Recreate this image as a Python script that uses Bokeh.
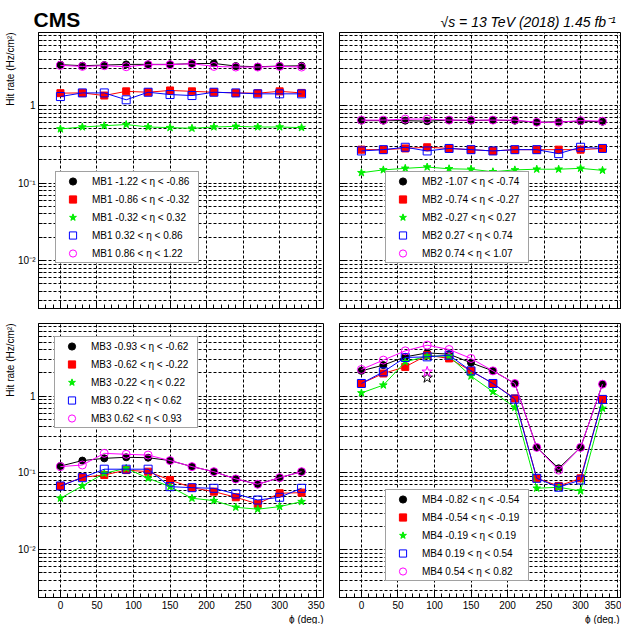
from bokeh.plotting import figure
from bokeh.models import (FixedTicker, CustomJSTickFormatter, Legend, LegendItem,
                          Title, Range1d)
from bokeh.layouts import column, row
from bokeh.embed import file_html
from bokeh.resources import INLINE

# ---------------- data ----------------
phi = [0, 30, 60, 90, 120, 150, 180, 210, 240, 270, 300, 330]

mb1_eta_edges = ["-1.22", "-0.86", "-0.32", "0.32", "0.86", "1.22"]
mb1_s1 = [3.38, 3.28, 3.34, 3.41, 3.41, 3.41, 3.48, 3.51, 3.24, 3.18, 3.24, 3.27]
mb1_s2 = [1.45, 1.46, 1.35, 1.53, 1.49, 1.57, 1.53, 1.49, 1.46, 1.45, 1.53, 1.46]
mb1_s3 = [0.50, 0.53, 0.55, 0.57, 0.53, 0.52, 0.51, 0.53, 0.54, 0.53, 0.53, 0.52]
mb1_s4 = [1.31, 1.46, 1.46, 1.19, 1.49, 1.39, 1.35, 1.49, 1.46, 1.42, 1.42, 1.42]
mb1_s5 = [3.31, 3.21, 3.28, 3.18, 3.38, 3.38, 3.48, 3.21, 3.15, 3.15, 3.21, 3.15]

mb2_eta_edges = ["-1.07", "-0.74", "-0.27", "0.27", "0.74", "1.07"]
mb2_s1 = [0.64, 0.64, 0.64, 0.63, 0.65, 0.64, 0.65, 0.64, 0.61, 0.62, 0.63, 0.62]
mb2_s2 = [0.27, 0.27, 0.28, 0.29, 0.28, 0.27, 0.26, 0.27, 0.27, 0.27, 0.27, 0.28]
mb2_s3 = [0.136, 0.148, 0.155, 0.161, 0.153, 0.151, 0.140, 0.148, 0.151, 0.151, 0.155, 0.146]
mb2_s4 = [0.26, 0.27, 0.29, 0.26, 0.28, 0.27, 0.26, 0.27, 0.27, 0.24, 0.29, 0.28]
mb2_s5 = [0.65, 0.65, 0.67, 0.67, 0.65, 0.65, 0.65, 0.65, 0.61, 0.61, 0.64, 0.63]

mb3_eta_edges = ["-0.93", "-0.62", "-0.22", "0.22", "0.62", "0.93"]
mb3_s1 = [0.123, 0.145, 0.155, 0.160, 0.158, 0.145, 0.121, 0.104, 0.0836, 0.0713, 0.0869, 0.104]
mb3_s2 = [0.0678, 0.0879, 0.0942, 0.109, 0.104, 0.0811, 0.0644, 0.0572, 0.0483, 0.0396, 0.0545, 0.0555]
mb3_s3 = [0.0469, 0.0678, 0.0991, 0.115, 0.0853, 0.0664, 0.0469, 0.0437, 0.0358, 0.0338, 0.0365, 0.0424]
mb3_s4 = [0.0678, 0.0869, 0.112, 0.112, 0.112, 0.0664, 0.0644, 0.0632, 0.0534, 0.0445, 0.0483, 0.0632]
mb3_s5 = [0.121, 0.127, 0.180, 0.175, 0.171, 0.145, 0.121, 0.104, 0.0836, 0.0713, 0.0869, 0.104]

mb4_eta_edges = ["-0.82", "-0.54", "-0.19", "0.19", "0.54", "0.82"]
mb4_s1 = [2.13, 2.53, 3.24, 3.65, 3.51, 2.71, 2.13, 1.46, 0.215, 0.115, 0.215, 1.43]
mb4_s2 = [1.46, 1.97, 2.40, 3.41, 3.09, 2.13, 1.46, 0.933, 0.0853, 0.0678, 0.0853, 0.906]
mb4_s3 = [1.10, 1.39, 2.79, 3.31, 3.31, 1.82, 1.14, 0.713, 0.0633, 0.0652, 0.0584, 0.692]
mb4_s4 = [1.46, 2.07, 3.18, 3.24, 3.41, 2.13, 1.46, 0.914, 0.0853, 0.0652, 0.0811, 0.906]
mb4_s5 = [2.22, 2.94, 3.88, 4.60, 4.04, 3.09, 2.13, 1.46, 0.215, 0.109, 0.215, 1.43]
# extra open-star points in MB4 at phi = 90
mb4_star_phi = [90]
mb4_star_black = [1.73]
mb4_star_magenta = [2.07]

x_major = [0, 50, 100, 150, 200, 250, 300, 350]
x_minor = [v for v in range(-30, 361, 10) if v % 50 != 0]
y_major = [0.01, 0.1, 1]
y_minor = [m * d for d in (0.001, 0.01, 0.1, 1) for m in range(2, 10)]

FONT = "Liberation Sans"
DASH = "3 2"

styles = [
    dict(marker="circle", size=7, fill_color="black", line_color="black", color="black"),
    dict(marker="square", size=7, fill_color="#ff0000", line_color="#ff0000", color="#ff0000"),
    dict(marker="star", size=8, fill_color="#00ee00", line_color="#00ee00", color="#00ee00"),
    dict(marker="square", size=8, fill_color=None, line_color="#0000ff", color="#0000ff"),
    dict(marker="circle", size=8, fill_color=None, line_color="#ff00ff", color="#ff00ff"),
]

ytick_fmt = CustomJSTickFormatter(code="""
if (Math.abs(tick - 1) < 1e-9) return "1";
const e = Math.round(Math.log10(tick));
const sup = {"-": "\u207b", "0": "\u2070", "1": "\u00b9", "2": "\u00b2", "3": "\u00b3"};
return "10" + String(e).split("").map(c => sup[c]).join("");
""")
blank_fmt = CustomJSTickFormatter(code="return '';")


def make_panel(name, series, edges, width, height, borders, x_end,
               show_xlabels, show_ylabels, legend_loc):
    bl, br, bt, bb = borders
    p = figure(width=width, height=height, x_range=Range1d(-30, x_end),
               y_range=Range1d(0.0024, 8.8), y_axis_type="log",
               output_backend="svg", toolbar_location=None, title=None,
               min_border_left=bl, min_border_right=br,
               min_border_top=bt, min_border_bottom=bb)
    p.outline_line_color = "black"
    p.outline_line_width = 1
    p.background_fill_color = "white"
    p.border_fill_color = "white"

    xt = FixedTicker(ticks=x_major, minor_ticks=x_minor)
    yt = FixedTicker(ticks=y_major, minor_ticks=y_minor)
    p.xaxis.ticker = xt
    p.xgrid.ticker = xt
    p.yaxis.ticker = yt
    p.ygrid.ticker = yt
    p.yaxis.formatter = ytick_fmt

    for ax in (p.xaxis, p.yaxis):
        ax.major_tick_in = 7
        ax.major_tick_out = 0
        ax.minor_tick_in = 4
        ax.minor_tick_out = 0
        ax.axis_line_color = "black"
        ax.major_tick_line_color = "black"
        ax.minor_tick_line_color = "black"
        ax.major_label_text_font = FONT
        ax.major_label_text_font_size = "10px"
        ax.major_label_text_color = "black"
    p.xaxis.major_label_standoff = 3
    p.yaxis.major_label_standoff = 3
    if not show_xlabels:
        p.xaxis.formatter = blank_fmt
        p.xaxis.major_label_standoff = 0
    if not show_ylabels:
        p.yaxis.formatter = blank_fmt
        p.yaxis.major_label_standoff = 0

    p.xgrid.grid_line_color = "black"
    p.xgrid.grid_line_dash = DASH
    p.xgrid.grid_line_width = 1
    p.ygrid.grid_line_color = "black"
    p.ygrid.grid_line_dash = DASH
    p.ygrid.grid_line_width = 1
    p.ygrid.minor_grid_line_color = "black"
    p.ygrid.minor_grid_line_dash = DASH
    p.ygrid.minor_grid_line_width = 1

    items = []
    for i, (vals, st) in enumerate(zip(series, styles)):
        p.line(phi, vals, line_color=st["color"], line_width=1)
        r = p.scatter(phi, vals, marker=st["marker"], size=st["size"],
                      fill_color=st["fill_color"], line_color=st["line_color"],
                      line_width=1)
        label = f"{name} {edges[i]} < \u03b7 < {edges[i + 1]}"
        items.append(LegendItem(label=label, renderers=[r]))

    leg = Legend(items=items, location=legend_loc, glyph_width=33, glyph_height=18,
                 label_height=13, label_width=106, label_standoff=3, spacing=-3,
                 padding=0, margin=0, border_line_color="#444444",
                 border_line_width=1, background_fill_color="white",
                 background_fill_alpha=1.0, label_text_font=FONT,
                 label_text_font_size="10px", label_text_color="black")
    p.add_layout(leg, "center")
    return p


p1 = make_panel("MB1", [mb1_s1, mb1_s2, mb1_s3, mb1_s4, mb1_s5], mb1_eta_edges,
                331, 315, (38, 8, 32, 7), 360, False, True, (17, 45))
p2 = make_panel("MB2", [mb2_s1, mb2_s2, mb2_s3, mb2_s4, mb2_s5], mb2_eta_edges,
                290, 315, (8, 0, 32, 7), 356, False, False, (46, 45))
p3 = make_panel("MB3", [mb3_s1, mb3_s2, mb3_s3, mb3_s4, mb3_s5], mb3_eta_edges,
                331, 309, (38, 8, 8, 25), 360, True, True, (16, 169))
p4 = make_panel("MB4", [mb4_s1, mb4_s2, mb4_s3, mb4_s4, mb4_s5], mb4_eta_edges,
                290, 309, (8, 0, 8, 25), 356, True, False, (46, 16))

p4.scatter(mb4_star_phi, mb4_star_black, marker="star", size=11, fill_color=None,
           line_color="black", line_width=1)
p4.scatter(mb4_star_phi, mb4_star_magenta, marker="star", size=11, fill_color=None,
           line_color="#ff00ff", line_width=1)

# texts
p1.add_layout(Title(text="CMS", align="left", offset=-5, standoff=4,
                    text_font=FONT, text_font_style="bold", text_font_size="21px",
                    text_color="black"), "above")
p2.add_layout(Title(text="\u221as = 13 TeV (2018) 1.45 fb\u207b\u00b9", align="left",
                    offset=101, standoff=6, text_font=FONT, text_font_style="italic",
                    text_font_size="14px", text_color="black"), "above")
for p in (p1, p3):
    p.add_layout(Title(text="Hit rate (Hz/cm\u00b2)", align="right", standoff=0,
                       text_font=FONT, text_font_style="normal",
                       text_font_size="10px", text_color="black"), "left")
for p in (p3, p4):
    p.add_layout(Title(text="\u03d5 (deg.)", align="right", standoff=0,
                       offset=(0 if p is p3 else 2),
                       text_font=FONT, text_font_style="normal",
                       text_font_size="10px", text_color="black"), "below")

layout = column(row(p1, p2), row(p3, p4))
open("out.html", "w").write(file_html(layout, INLINE))
